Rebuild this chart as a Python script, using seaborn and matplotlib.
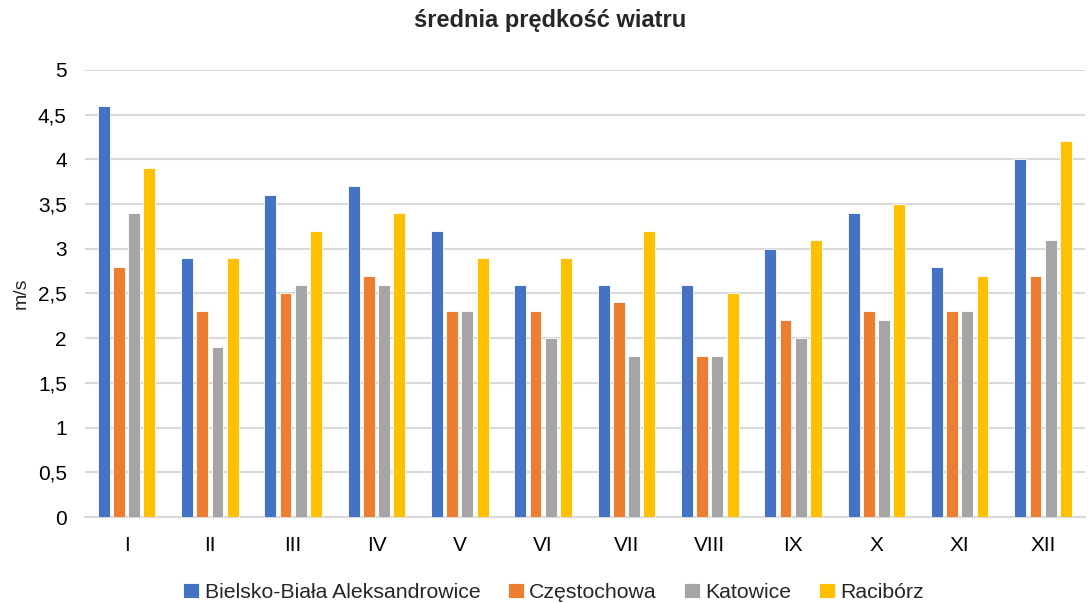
import matplotlib
matplotlib.use("Agg")
import matplotlib.pyplot as plt
import seaborn as sns
import pandas as pd
from matplotlib.ticker import FuncFormatter, MultipleLocator

months = ["I", "II", "III", "IV", "V", "VI", "VII", "VIII", "IX", "X", "XI", "XII"]
stations = ["Bielsko-Biała Aleksandrowice", "Częstochowa", "Katowice", "Racibórz"]
bielsko = [4.6, 2.9, 3.6, 3.7, 3.2, 2.6, 2.6, 2.6, 3.0, 3.4, 2.8, 4.0]
czestochowa = [2.8, 2.3, 2.5, 2.7, 2.3, 2.3, 2.4, 1.8, 2.2, 2.3, 2.3, 2.7]
katowice = [3.4, 1.9, 2.6, 2.6, 2.3, 2.0, 1.8, 1.8, 2.0, 2.2, 2.3, 3.1]
raciborz = [3.9, 2.9, 3.2, 3.4, 2.9, 2.9, 3.2, 2.5, 3.1, 3.5, 2.7, 4.2]
colors = ["#4472C4", "#ED7D31", "#A5A5A5", "#FFC000"]

rows = []
for st, vals in zip(stations, [bielsko, czestochowa, katowice, raciborz]):
    for m, v in zip(months, vals):
        rows.append({"month": m, "station": st, "value": v})
df = pd.DataFrame(rows)

sns.set_theme(style="white")
plt.rcParams['font.family'] = ['Liberation Sans', 'DejaVu Sans']

fig = plt.figure(figsize=(10.88, 6.03), dpi=100)
ax = fig.add_axes([0.078, 0.1426, 0.919, 0.7414])

sns.barplot(data=df, x="month", y="value", hue="station", order=months,
            hue_order=stations, palette=colors, width=0.73, gap=0.22,
            ax=ax, saturation=1, zorder=3, linewidth=0.6, edgecolor="#FFFFFF")

ax.set_ylim(0, 5)
ax.set_xlim(-0.5, 11.5)
ax.yaxis.set_major_locator(MultipleLocator(0.5))
ax.yaxis.set_major_formatter(FuncFormatter(lambda v, p: (f"{v:g}").replace(".", ",")))
ax.grid(axis="y", color="#D9D9D9", linewidth=1.5, zorder=0)
ax.set_axisbelow(True)
for s in ["top", "right", "left"]:
    ax.spines[s].set_visible(False)
ax.spines["bottom"].set_color("#D9D9D9")
ax.spines["bottom"].set_linewidth(1.5)
ax.tick_params(axis="y", labelsize=15, colors="#000000", length=0, pad=13)
ax.tick_params(axis="x", labelsize=15, colors="#000000", length=0, pad=14)
ax.set_xlabel("")
ax.set_ylabel("m/s", fontsize=14, labelpad=6)
fig.suptitle("średnia prędkość wiatru", fontsize=17, fontweight="bold",
             x=0.506, y=0.985, va="top")

handles, labels = ax.get_legend_handles_labels()
ax.get_legend().remove()
fig.legend(handles, labels, loc="center", bbox_to_anchor=(0.509, 0.018), ncol=4,
           frameon=False, fontsize=15.3, handlelength=0.75, handleheight=0.75,
           handletextpad=0.25, columnspacing=1.3)

fig.savefig("out.png", dpi=100)
